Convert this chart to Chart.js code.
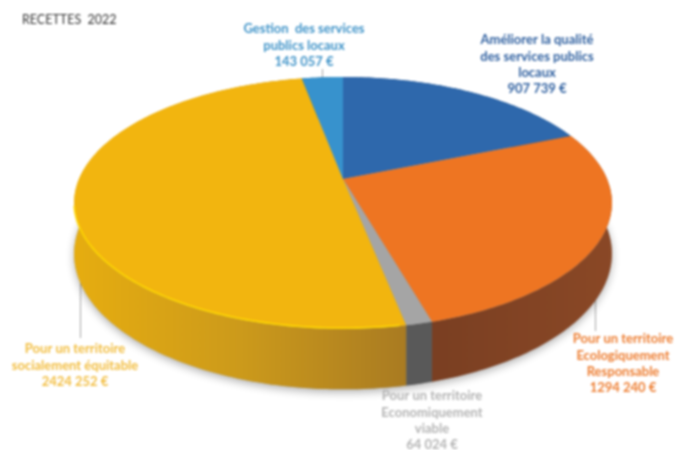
<!DOCTYPE html>
<html>
<head>
<meta charset="utf-8">
<title>Recettes 2022</title>
<script src="https://cdn.jsdelivr.net/npm/chart.js@4/dist/chart.umd.min.js"></script>
<style>
  html, body { margin: 0; padding: 0; background: #fff; }
  canvas { display: block; filter: blur(0.8px); }
</style>
</head>
<body>
<canvas id="pie" width="675" height="450"></canvas>
<script>
// data, clockwise from 12 o'clock
const categories = ['Améliorer la qualité des services publics locaux', 'Pour un territoire Ecologiquement Responsable', 'Pour un territoire Economiquement viable', 'Pour un territoire socialement équitable', 'Gestion des services publics locaux'];
const values = [907739, 1294240, 64024, 2424252, 143057];
const faceColors = ['#2e68ac', '#ee7522', '#a5a5a5', '#f2b50f', '#3792cd'];
const wallColors = [['#1f4a7c', '#1f4a7c'], ['#7a3f22', '#8a4826'], ['#595959', '#595959'], ['#e6ad10', '#cc9a1b', '#a97b22'], ['#26688f', '#26688f']];
const labelLines = [
    ['Améliorer la qualité', 'des services publics', 'locaux', '907 739 €'],
    ['Pour un territoire', 'Ecologiquement', 'Responsable', '1294 240 €'],
    ['Pour un territoire', 'Economiquement', 'viable', '64 024 €'],
    ['Pour un territoire', 'socialement équitable', '2424 252 €'],
    ['Gestion  des services', 'publics locaux', '143 057 €']
];
const labelColors = ['#2e5f9f', '#ed7d31', '#b4b4b4', '#f2bd3f', '#3f93c8'];
const labelPos = [[537, 40], [623, 339], [432, 396], [75, 349], [304, 29]];
const leaders = [[322, 69, 322, 78], [595, 300, 595, 331], [80, 250, 80, 338]];

// perspective of the tilted disc, relative to the chart's own radius
const TILT = 0.19, STRETCH_X = 264 / 153, STRETCH_Y = 121.4 / 153, DEPTH = 49 / 153;

function project(arc, angle) {
    const u = Math.cos(angle), v = -Math.sin(angle), d = 1 + TILT * v;
    return {
        x: arc.x + arc.outerRadius * STRETCH_X * u / d,
        y: arc.y - arc.outerRadius * STRETCH_Y * v / d,
        drop: arc.outerRadius * DEPTH / d
    };
}

function rim(arc, from, to) {
    const a0 = from === undefined ? arc.startAngle : from;
    const a1 = to === undefined ? arc.endAngle : to;
    const n = Math.max(2, Math.ceil((a1 - a0) * 60));
    const pts = [];
    for (let i = 0; i <= n; i++) pts.push(project(arc, a0 + (a1 - a0) * i / n));
    return pts;
}

const disc3d = {
    id: 'disc3d',
    beforeDatasetDraw(chart) {
        const ctx = chart.ctx;
        const arcs = chart.getDatasetMeta(0).data;

        ctx.save();
        ctx.strokeStyle = '#a6a6a6';
        ctx.lineWidth = 1;
        leaders.forEach(l => {
            ctx.beginPath();
            ctx.moveTo(l[0] + 0.5, l[1]);
            ctx.lineTo(l[2] + 0.5, l[3]);
            ctx.stroke();
        });

        // soft shadow under the disc
        ctx.save();
        ctx.shadowColor = 'rgba(0,0,0,0.3)';
        ctx.shadowBlur = 9;
        ctx.shadowOffsetY = 3;
        ctx.fillStyle = '#999';
        ctx.beginPath();
        arcs.forEach(arc => rim(arc).forEach(p => ctx.lineTo(p.x, p.y + p.drop)));
        ctx.closePath();
        ctx.fill();
        ctx.restore();

        // walls
        arcs.forEach((arc, i) => {
            const pts = rim(arc);
            const xs = pts.map(p => p.x);
            const g = ctx.createLinearGradient(Math.min(...xs), 0, Math.max(...xs), 0);
            wallColors[i].forEach((c, k) => g.addColorStop(k / (wallColors[i].length - 1), c));
            ctx.fillStyle = g;
            ctx.beginPath();
            pts.forEach(p => ctx.lineTo(p.x, p.y));
            pts.slice().reverse().forEach(p => ctx.lineTo(p.x, p.y + p.drop));
            ctx.closePath();
            ctx.fill();
        });

        // top faces
        arcs.forEach(arc => {
            ctx.fillStyle = arc.options.backgroundColor;
            ctx.beginPath();
            ctx.moveTo(arc.x, arc.y);
            rim(arc).forEach(p => ctx.lineTo(p.x, p.y));
            ctx.closePath();
            ctx.fill();
        });

        // bright edge on the biggest slice
        const big = arcs[3];
        ctx.strokeStyle = '#ffd800';
        ctx.lineWidth = 1.6;
        ctx.beginPath();
        rim(big, big.startAngle + 0.02, Math.PI * 0.93).forEach(p => ctx.lineTo(p.x, p.y - 0.8));
        ctx.stroke();
        ctx.restore();
        return false;
    },
    afterDraw(chart) {
        const ctx = chart.ctx;
        ctx.save();
        ctx.font = 'bold 13px Lato';
        ctx.textAlign = 'center';
        ctx.textBaseline = 'middle';
        labelLines.forEach((lines, i) => {
            ctx.fillStyle = labelColors[i];
            lines.forEach((t, k) => ctx.fillText(t, labelPos[i][0], labelPos[i][1] + k * 16.4));
        });
        ctx.restore();
    }
};

new Chart(document.getElementById('pie').getContext('2d'), {
    type: 'pie',
    data: {
        labels: categories,
        datasets: [{ data: values, backgroundColor: faceColors, borderWidth: 0 }]
    },
    options: {
        responsive: false,
        animation: false,
        layout: { padding: { left: 22, right: 11, top: 0, bottom: 118 } },
        plugins: {
            legend: { display: false },
            tooltip: { enabled: false },
            title: {
                display: true,
                text: 'RECETTES  2022',
                align: 'start',
                color: '#333',
                font: { family: 'Lato', size: 12.5, weight: 'normal', lineHeight: 1 },
                padding: { top: 13.5, bottom: 0 }
            }
        }
    },
    plugins: [disc3d]
});
</script>
</body>
</html>
